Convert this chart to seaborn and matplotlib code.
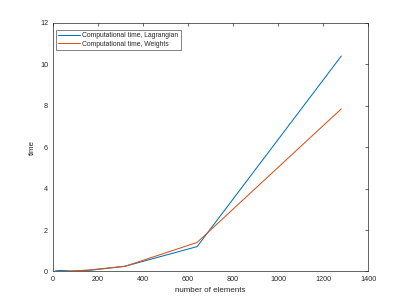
import pandas as pd
import matplotlib
matplotlib.use("Agg")
import matplotlib.pyplot as plt
import seaborn as sns

# data
elements = [10, 20, 40, 80, 160, 320, 640, 1280]
time_lagrangian = [0.02, 0.04, 0.05, 0.02, 0.05, 0.25, 1.2, 10.4]
time_weights = [0.0, 0.0, 0.01, 0.02, 0.07, 0.25, 1.4, 7.85]
labels = ["Computational time, Lagrangian", "Computational time, Weights"]
colors = ["#0072BD", "#D95319"]

df = pd.concat([
    pd.DataFrame({"elements": elements, "time": time_lagrangian, "series": labels[0]}),
    pd.DataFrame({"elements": elements, "time": time_weights, "series": labels[1]}),
])

sns.set_style("white")
plt.rcParams['font.family'] = ['Liberation Sans', 'DejaVu Sans']

fig = plt.figure(figsize=(4.07, 3.05), dpi=100)
ax = fig.add_axes([0.13, 0.11, 0.775, 0.815])
sns.lineplot(data=df, x="elements", y="time", hue="series",
             palette=colors, linewidth=0.75, ax=ax, legend=False)

ax.set_xlim(0, 1400)
ax.set_ylim(0, 12)
ax.set_xticks(range(0, 1401, 200))
ax.set_yticks(range(0, 13, 2))
ax.set_xlabel("number of elements", fontsize=5.8, color="#262626", labelpad=3)
ax.set_ylabel("time", fontsize=5.8, color="#262626", labelpad=3)
ax.tick_params(direction="in", length=2.5, width=0.5, labelsize=5.2,
               colors="#262626", top=True, right=True, pad=3.5)
for s in ax.spines.values():
    s.set_linewidth(0.5)
    s.set_color("#262626")

# legend from the drawn lines so the swatches keep their colours
leg = ax.legend(ax.lines[:2], labels, loc="upper left",
                bbox_to_anchor=(0.01, 0.972), borderaxespad=0,
                fontsize=4.9, frameon=True, fancybox=False,
                edgecolor="#262626", handlelength=3.2, handletextpad=0.3,
                borderpad=0.35, labelspacing=0.2)
leg.get_frame().set_linewidth(0.5)

fig.savefig("out.png", dpi=100)
